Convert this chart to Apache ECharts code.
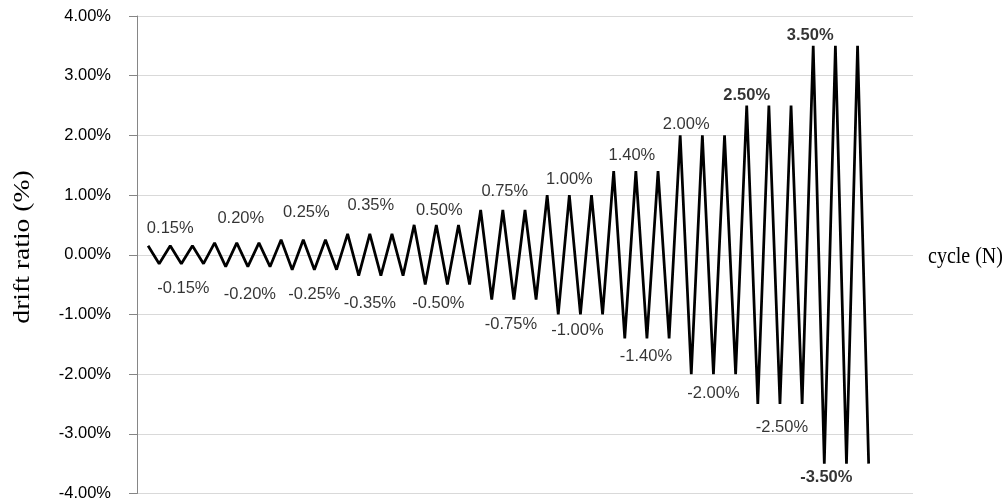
<!DOCTYPE html>
<html>
<head>
<meta charset="utf-8">
<script src="https://cdn.jsdelivr.net/npm/echarts@6/dist/echarts.min.js"></script>
<style>html,body{margin:0;padding:0;background:#fff}#c{width:1003px;height:502px}</style>
</head>
<body>
<div id="c"></div>
<script>
// Loading protocol: drift amplitude (%) for each step, 3 cycles per step
const amplitudes = [0.15, 0.20, 0.25, 0.35, 0.50, 0.75, 1.00, 1.40, 2.00, 2.50, 3.50];
// Peak / valley drift ratio of every half cycle (%)
const driftRatio = [
  0.15, -0.15, 0.15, -0.15, 0.15, -0.15,
  0.20, -0.20, 0.20, -0.20, 0.20, -0.20,
  0.25, -0.25, 0.25, -0.25, 0.25, -0.25,
  0.35, -0.35, 0.35, -0.35, 0.35, -0.35,
  0.50, -0.50, 0.50, -0.50, 0.50, -0.50,
  0.75, -0.75, 0.75, -0.75, 0.75, -0.75,
  1.00, -1.00, 1.00, -1.00, 1.00, -1.00,
  1.40, -1.40, 1.40, -1.40, 1.40, -1.40,
  2.00, -2.00, 2.00, -2.00, 2.00, -2.00,
  2.50, -2.50, 2.50, -2.50, 2.50, -2.50,
  3.50, -3.50, 3.50, -3.50, 3.50, -3.50
];
const peakLabels   = ['0.15%', '0.20%', '0.25%', '0.35%', '0.50%', '0.75%', '1.00%', '1.40%', '2.00%', '2.50%', '3.50%'];
const valleyLabels = ['-0.15%', '-0.20%', '-0.25%', '-0.35%', '-0.50%', '-0.75%', '-1.00%', '-1.40%', '-2.00%', '-2.50%', '-3.50%'];
const yTicks = [-4, -3, -2, -1, 0, 1, 2, 3, 4];

// ---- styling / label placement (not data) ----
const posAnchorCycle = [1, 1, 1, 1, 1, 1, 1, 1, 0, 0, 0];
const negAnchorCycle = [1, 1, 1, 1, 1, 1, 1, 1, 1, 1, 0];
const posOffset = [[0,-17],[4,-24],[3,-27],[1,-28],[3,-14],[2,-19],[0,-16],[-4,-16],[6,-11],[0,-10],[-3,-10]];
const negOffset = [[2,25],[2,28],[0,25],[-11,28],[-9,19],[-3,25],[-3,16],[-1,18],[0,19],[2,23],[2,14]];
const posBold = [false,false,false,false,false,false,false,false,false,true,true];
const negBold = [false,false,false,false,false,false,false,false,false,false,true];

const cycleOf = i => (i + 1) / 2;   // x position of half-cycle i (cycle number N)
const lineData = driftRatio.map((v, i) => [cycleOf(i), v]);

const labelData = [];
amplitudes.forEach((a, g) => {
  const pi = g * 6 + posAnchorCycle[g] * 2;
  const ni = g * 6 + negAnchorCycle[g] * 2 + 1;
  labelData.push({
    value: [cycleOf(pi), driftRatio[pi]],
    label: { formatter: peakLabels[g], offset: posOffset[g], fontWeight: posBold[g] ? 'bold' : 'normal' }
  });
  labelData.push({
    value: [cycleOf(ni), driftRatio[ni]],
    label: { formatter: valleyLabels[g], offset: negOffset[g], fontWeight: negBold[g] ? 'bold' : 'normal' }
  });
});

const chart = echarts.init(document.getElementById('c'), null, { renderer: 'canvas' });
chart.setOption({
  animation: false,
  backgroundColor: '#fff',
  grid: { left: 137, right: 90, top: 16, bottom: 8, containLabel: false },
  xAxis: {
    type: 'value', min: 0, max: 35,
    axisLine: { show: false }, axisTick: { show: false },
    axisLabel: { show: false }, splitLine: { show: false }
  },
  yAxis: {
    type: 'value', min: yTicks[0], max: yTicks[yTicks.length - 1], interval: 1,
    axisLine: { show: true, lineStyle: { color: '#868686', width: 1 } },
    axisTick: { show: true, length: 8, lineStyle: { color: '#868686' } },
    axisLabel: {
      margin: 26, color: '#000', fontSize: 16.5, fontFamily: 'Liberation Sans, Arial, sans-serif',
      formatter: v => v.toFixed(2) + '%'
    },
    splitLine: { show: true, lineStyle: { color: '#d9d9d9', width: 1 } }
  },
  series: [
    {
      type: 'line', data: lineData, symbol: 'none',
      lineStyle: { color: '#000', width: 2.75, join: 'bevel' },
      z: 3
    },
    {
      type: 'scatter', data: labelData, symbolSize: 1,
      itemStyle: { color: 'rgba(0,0,0,0)' },
      label: {
        show: true, position: 'inside', color: '#000', fontSize: 16.5,
        fontFamily: 'Liberation Sans, Arial, sans-serif'
      },
      z: 4
    }
  ],
  graphic: [
    {
      type: 'text', x: 23, y: 247, rotation: Math.PI / 2, scaleX: 1.2,
      style: {
        text: 'drift ratio (%)', fill: '#000', font: '23px "Liberation Serif", "Times New Roman", serif',
        align: 'center', verticalAlign: 'middle'
      }
    },
    {
      type: 'text', x: 928, y: 257, scaleY: 1.2,
      style: {
        text: 'cycle (N)', fill: '#000', font: '20px "Liberation Serif", "Times New Roman", serif',
        align: 'left', verticalAlign: 'middle'
      }
    }
  ]
});
</script>
</body>
</html>
